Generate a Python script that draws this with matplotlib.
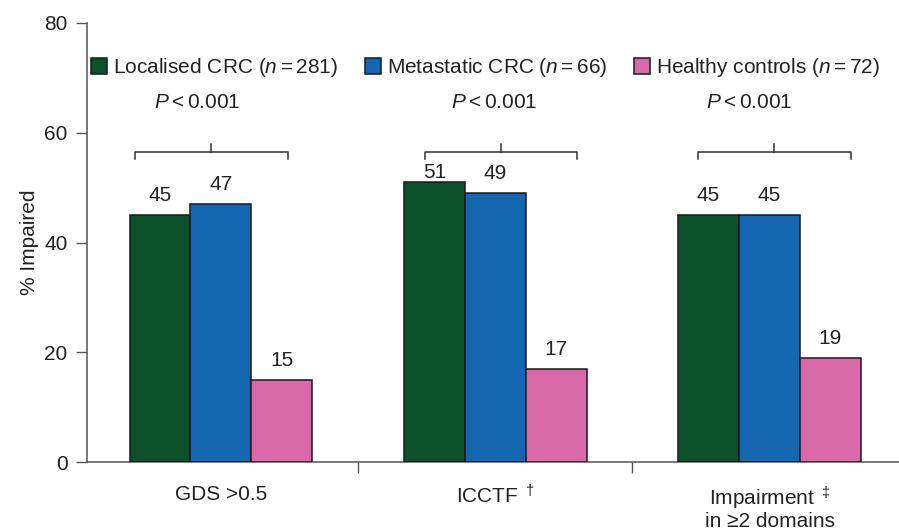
import matplotlib
matplotlib.use("Agg")
import matplotlib.pyplot as plt
import matplotlib.patches as mpatches
import numpy as np

plt.rcParams['font.family'] = ['Liberation Sans', 'DejaVu Sans']
plt.rcParams['mathtext.fontset'] = 'custom'
plt.rcParams['mathtext.rm'] = 'Liberation Sans'
plt.rcParams['mathtext.it'] = 'Liberation Sans:italic'
plt.rcParams['mathtext.bf'] = 'Liberation Sans:bold'

# data
categories = ["GDS >0.5", "ICCTF $^\\dagger$", "Impairment $^\\ddagger$\nin \u22652 domains"]
groups = ["Localised CRC ($n = 281$)", "Metastatic CRC ($n = 66$)", "Healthy controls ($n = 72$)"]
localised = [45, 51, 45]
metastatic = [47, 49, 45]
healthy = [15, 17, 19]
p_labels = ["$P < 0.001$", "$P < 0.001$", "$P < 0.001$"]

colors = ["#0c5129", "#1466b0", "#d96aa9"]
txt = "#222222"
spine_col = "#555555"
fs = 15

fig = plt.figure(figsize=(8.99, 5.30), dpi=100)
ax = fig.add_axes([87/899, 1-462.3/530, 812/899, (462.3-23)/530])

x = np.arange(len(categories))
w = 0.222
series = [localised, metastatic, healthy]
for j, vals in enumerate(series):
	pos = x + (j-1)*w
	ax.bar(pos, vals, w, color=colors[j], edgecolor="#1a1a1a", linewidth=1.1, zorder=3)
	for xp, v in zip(pos, vals):
		## labels sit above the bar but below the bracket
		ax.text(xp, min(v + 2.55, 51.7), str(v), ha='center', va='baseline',
			fontsize=fs, color=txt)

# brackets + p values
br_shift = [-0.035, 0.021, 0.018]
p_shift = [-0.087, -0.003, -0.073]
half = 0.278
for i in range(len(categories)):
	c = x[i] + br_shift[i]
	ax.plot([c-half, c-half, c+half, c+half], [55.2, 56.5, 56.5, 55.2],
		color="#333333", lw=1.1, solid_joinstyle='round')
	ax.plot([c, c], [56.5, 58.0], color="#333333", lw=1.1)
	ax.text(x[i] + p_shift[i], 65.6, p_labels[i], ha='center', va='center',
		fontsize=fs, color=txt)

ax.set_xlim(-0.488, 2.472)
ax.set_ylim(0, 80)
ax.set_yticks([0, 20, 40, 60, 80])
ax.set_xticks(x)
ax.set_xticklabels(categories, fontsize=fs, color=txt, va='top', linespacing=1.02)
ax.set_xticks([0.5, 1.5], minor=True)
ax.tick_params(axis='x', which='major', length=0, pad=16)
ax.tick_params(axis='x', which='minor', length=8, width=1, color=spine_col)
ax.tick_params(axis='y', length=8, width=1, color=spine_col, labelsize=fs,
	labelcolor=txt, pad=6)
ax.set_ylabel("% Impaired", fontsize=fs, color=txt, labelpad=4)

for s in ['top', 'right']:
	ax.spines[s].set_visible(False)
for s in ['left', 'bottom']:
	ax.spines[s].set_color(spine_col)
	ax.spines[s].set_linewidth(1.1)

handles = [mpatches.Patch(facecolor=colors[j], edgecolor="#1a1a1a", linewidth=1.1)
	for j in range(3)]
ax.legend(handles, groups, loc='center left', bbox_to_anchor=(0.005, 0.8987),
	ncol=3, frameon=False, borderpad=0, borderaxespad=0, fontsize=fs,
	handlelength=0.77, handleheight=0.77, handletextpad=0.29, columnspacing=1.27,
	labelcolor=txt)

fig.savefig("out.png", dpi=100)
